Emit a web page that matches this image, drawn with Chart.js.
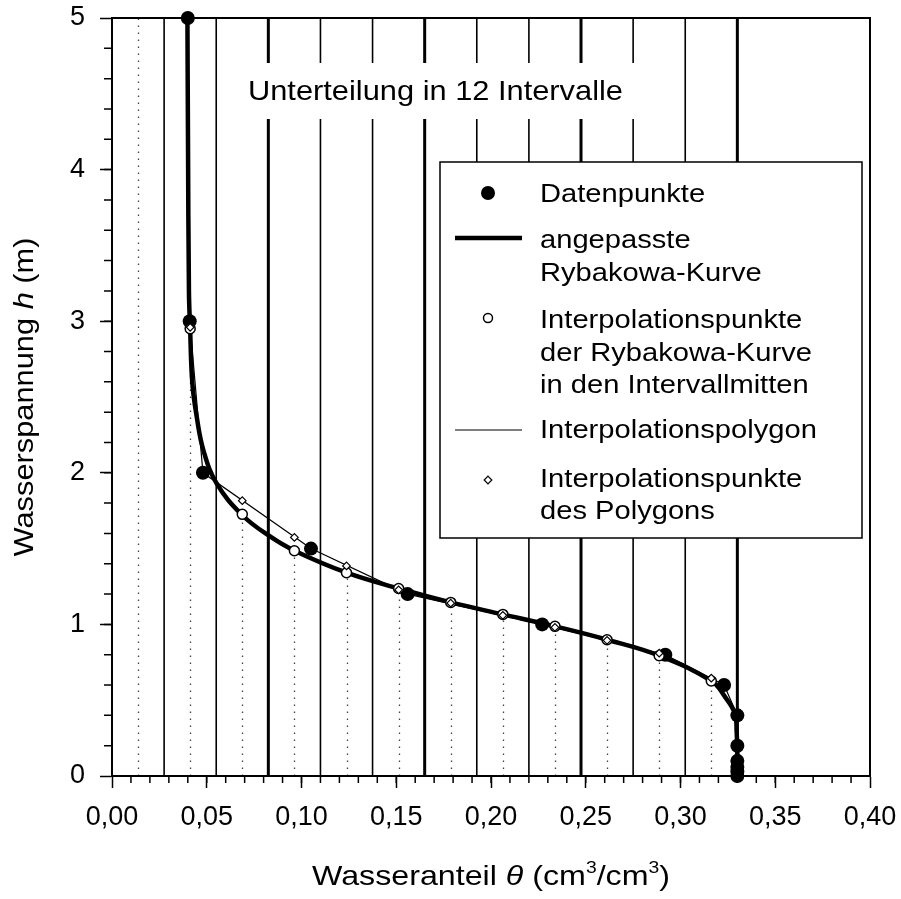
<!DOCTYPE html>
<html>
<head>
<meta charset="utf-8">
<script src="https://cdn.jsdelivr.net/npm/chart.js@4.4.0/dist/chart.umd.min.js"></script>
<style>
  html, body { margin: 0; padding: 0; background: #fff; }
  #wrap { width: 901px; height: 899px; }
</style>
</head>
<body>
<div id="wrap"><canvas id="chart" width="901" height="899"></canvas></div>
<script>
////////////////////////////// Daten //////////////////////////////

// Datenpunkte (theta, h)
var thetaPts = [0.040, 0.041, 0.048, 0.105, 0.156, 0.227, 0.292, 0.323, 0.330, 0.330, 0.330, 0.330, 0.330, 0.330];
var hPts     = [5.0,   3.0,   2.0,   1.5,   1.2,   1.0,   0.8,   0.6,   0.4,   0.2,   0.1,   0.06,  0.03,  0.0];

// angepasste Rybakowa-Kurve
var thetaCurve = [0.0398, 0.0401, 0.0406, 0.0412, 0.0424, 0.0447, 0.0482, 0.0552, 0.0688, 0.0834, 0.0963,
                  0.1238, 0.1513, 0.1788, 0.2063, 0.2338, 0.2613, 0.2888, 0.3163, 0.3236, 0.3288, 0.3296, 0.3300, 0.3300];
var hCurve     = [5.0, 4.2, 3.2, 2.96, 2.59, 2.37, 2.15, 1.93, 1.72, 1.58, 1.486,
                  1.341, 1.237, 1.145, 1.066, 0.987, 0.899, 0.794, 0.627, 0.52, 0.41, 0.3, 0.15, 0.0];

// 12 Intervalle: Grenzen und Mitten
var intervalEdges = [0.0275, 0.055, 0.0825, 0.11, 0.1375, 0.165, 0.1925, 0.22, 0.2475, 0.275, 0.3025, 0.33];
var intervalMids  = [0.01375, 0.04125, 0.06875, 0.09625, 0.12375, 0.15125, 0.17875, 0.20625, 0.23375, 0.26125, 0.28875, 0.31625];
var hCurveMid     = [null, 2.95, 1.726, 1.486, 1.341, 1.237, 1.145, 1.066, 0.987, 0.899, 0.794, 0.627];
var hPolyMid      = [null, 2.96, 1.816, 1.574, 1.386, 1.228, 1.14, 1.06, 0.98, 0.895, 0.81, 0.645];

// Achsen
var xTicks = [0, 0.05, 0.10, 0.15, 0.20, 0.25, 0.30, 0.35, 0.40];
var yTicks = [0, 1, 2, 3, 4, 5];

var legendLabels = [
  ['Datenpunkte'],
  ['angepasste', 'Rybakowa-Kurve'],
  ['Interpolationspunkte', 'der Rybakowa-Kurve', 'in den Intervallmitten'],
  ['Interpolationspolygon'],
  ['Interpolationspunkte', 'des Polygons']
];
var caption = 'Unterteilung in 12 Intervalle';

////////////////////////////// Hilfen //////////////////////////////

var FONT = "'Liberation Sans', Arial, sans-serif";

function pairs(xs, ys) {
  var out = [];
  for (var i = 0; i < xs.length; i++) {
    if (ys[i] !== null) out.push({ x: xs[i], y: ys[i] });
  }
  return out;
}

// stretched text (the original lettering is a bit wider than Arial)
function sText(ctx, str, x, y, sx) {
  ctx.save();
  ctx.translate(x, y);
  ctx.scale(sx, 1);
  ctx.fillText(str, 0, 0);
  ctx.restore();
}

// mixed-style text: segments {t, italic, sup}
function richWidth(ctx, segs, size) {
  var w = 0;
  segs.forEach(function (s) {
    ctx.font = (s.italic ? 'italic ' : '') + (s.sup ? size * 0.6 : size) + 'px ' + FONT;
    w += ctx.measureText(s.t).width;
  });
  return w;
}
function richText(ctx, segs, cx, y, size, sx) {
  ctx.save();
  ctx.translate(cx, y);
  ctx.scale(sx, 1);
  var x = -richWidth(ctx, segs, size) / 2;
  ctx.textAlign = 'left';
  ctx.textBaseline = 'alphabetic';
  segs.forEach(function (s) {
    ctx.font = (s.italic ? 'italic ' : '') + (s.sup ? size * 0.6 : size) + 'px ' + FONT;
    ctx.fillText(s.t, x, s.sup ? -size * 0.42 : 0);
    x += ctx.measureText(s.t).width;
  });
  ctx.restore();
}

////////////////////////////// Plugin //////////////////////////////

var decor = {
  id: 'decor',
  beforeDatasetsDraw: function (chart) {
    var ctx = chart.ctx, xs = chart.scales.x, ys = chart.scales.y, a = chart.chartArea;
    ctx.save();

    // gepunktete Linien in den Intervallmitten
    ctx.setLineDash([1.5, 5.5]);
    ctx.lineWidth = 1.3;
    ctx.strokeStyle = '#444';
    intervalMids.forEach(function (m, i) {
      var top = hCurveMid[i] === null ? ys.max : hCurveMid[i];
      var px = Math.round(xs.getPixelForValue(m)) + 0.5;
      ctx.beginPath();
      ctx.moveTo(px, ys.getPixelForValue(0));
      ctx.lineTo(px, ys.getPixelForValue(top));
      ctx.stroke();
    });
    ctx.setLineDash([]);

    // Intervallgrenzen, jede dritte kraeftiger
    ctx.strokeStyle = '#000';
    intervalEdges.forEach(function (e, i) {
      var px = xs.getPixelForValue(e);
      ctx.lineWidth = (i + 1) % 3 === 0 ? 3 : 1.6;
      ctx.beginPath();
      ctx.moveTo(px, a.top);
      ctx.lineTo(px, a.bottom);
      ctx.stroke();
    });

    // Beschriftung mit weissem Hintergrund
    ctx.fillStyle = '#fff';
    ctx.fillRect(240, 63, 400, 56);
    ctx.fillStyle = '#000';
    ctx.font = '28px ' + FONT;
    ctx.textAlign = 'left';
    ctx.textBaseline = 'alphabetic';
    sText(ctx, caption, 248, 100, 1.1);

    // Rahmen
    ctx.lineWidth = 2;
    ctx.strokeStyle = '#000';
    ctx.strokeRect(a.left, a.top, a.right - a.left, a.bottom - a.top);

    // kleine Teilstriche
    ctx.lineWidth = 1.5;
    ctx.beginPath();
    for (var v = 0.01; v < 0.4; v += 0.01) {
      var px = xs.getPixelForValue(v);
      ctx.moveTo(px, a.bottom);
      ctx.lineTo(px, a.bottom + 7);
    }
    for (var w = 0.2; w < 5; w += 0.2) {
      var py = ys.getPixelForValue(w);
      ctx.moveTo(a.left, py);
      ctx.lineTo(a.left - 8, py);
    }
    ctx.stroke();
    ctx.restore();
  },
  afterDatasetsDraw: function (chart) {
    var ctx = chart.ctx;
    ctx.save();

    // Legende
    var box = { l: 440, t: 162, r: 862, b: 538 };
    ctx.fillStyle = '#fff';
    ctx.fillRect(box.l, box.t, box.r - box.l, box.b - box.t);
    ctx.lineWidth = 1.5;
    ctx.strokeStyle = '#000';
    ctx.strokeRect(box.l, box.t, box.r - box.l, box.b - box.t);

    var symX = 488, txtX = 540;
    var baselines = [[201.5], [248, 281], [328, 360.5, 393], [438], [487, 519]];
    var symY = [193, 238, 318, 430, 480];

    // Symbole
    ctx.fillStyle = '#000';
    ctx.beginPath(); ctx.arc(symX, symY[0], 7, 0, Math.PI * 2); ctx.fill();
    ctx.lineWidth = 4.5;
    ctx.beginPath(); ctx.moveTo(455, symY[1]); ctx.lineTo(522, symY[1]); ctx.stroke();
    ctx.lineWidth = 1.5;
    ctx.fillStyle = '#fff';
    ctx.beginPath(); ctx.arc(symX, symY[2], 4.5, 0, Math.PI * 2); ctx.fill(); ctx.stroke();
    ctx.lineWidth = 1.2;
    ctx.beginPath(); ctx.moveTo(455, symY[3]); ctx.lineTo(522, symY[3]); ctx.stroke();
    ctx.beginPath();
    ctx.moveTo(symX, symY[4] - 3.8); ctx.lineTo(symX + 3.8, symY[4]);
    ctx.lineTo(symX, symY[4] + 3.8); ctx.lineTo(symX - 3.8, symY[4]); ctx.closePath();
    ctx.fill(); ctx.stroke();

    // Texte
    ctx.fillStyle = '#000';
    ctx.font = '26px ' + FONT;
    ctx.textAlign = 'left';
    ctx.textBaseline = 'alphabetic';
    legendLabels.forEach(function (lines, i) {
      lines.forEach(function (t, j) { sText(ctx, t, txtX, baselines[i][j], 1.12); });
    });
    ctx.restore();
  },
  afterDraw: function (chart) {
    var ctx = chart.ctx, a = chart.chartArea;
    ctx.save();
    ctx.fillStyle = '#000';
    // x-Achsentitel
    richText(ctx, [
      { t: 'Wasseranteil ' }, { t: '\u03B8', italic: true }, { t: ' (cm' }, { t: '3', sup: true },
      { t: '/cm' }, { t: '3', sup: true }, { t: ')' }
    ], (a.left + a.right) / 2, 885, 28, 1.15);
    // y-Achsentitel
    ctx.translate(33, (a.top + a.bottom) / 2);
    ctx.rotate(-Math.PI / 2);
    richText(ctx, [
      { t: 'Wasserspannung ' }, { t: 'h', italic: true }, { t: ' (m)' }
    ], 0, 0, 28, 1.1);
    ctx.restore();
  }
};

////////////////////////////// Graphique //////////////////////////////

var ctx = document.getElementById('chart').getContext('2d');
var myChart = new Chart(ctx, {
  type: 'scatter',
  data: {
    datasets: [
      {
        label: 'Interpolationspunkte des Polygons',
        data: pairs(intervalMids, hPolyMid),
        pointStyle: 'rectRot',
        pointRadius: 3.8,
        backgroundColor: '#fff',
        borderColor: '#000',
        borderWidth: 1.2,
        clip: false,
        order: 1
      },
      {
        label: 'Interpolationspunkte der Rybakowa-Kurve',
        data: pairs(intervalMids, hCurveMid),
        pointRadius: 5,
        backgroundColor: '#fff',
        borderColor: '#000',
        borderWidth: 1.5,
        clip: false,
        order: 2
      },
      {
        label: 'Datenpunkte',
        data: pairs(thetaPts, hPts),
        pointRadius: 7,
        backgroundColor: '#000',
        borderColor: '#000',
        borderWidth: 0,
        clip: false,
        order: 3
      },
      {
        label: 'angepasste Rybakowa-Kurve',
        data: pairs(thetaCurve, hCurve),
        showLine: true,
        tension: 0.4,
        borderColor: '#000',
        borderWidth: 4.5,
        pointRadius: 0,
        clip: false,
        order: 4
      },
      {
        label: 'Interpolationspolygon',
        data: pairs(thetaPts, hPts),
        showLine: true,
        tension: 0,
        borderColor: '#000',
        borderWidth: 1.2,
        pointRadius: 0,
        order: 5
      }
    ]
  },
  options: {
    responsive: false,
    animation: false,
    events: [],
    layout: { padding: { left: 0, top: 18, right: 31, bottom: 0 } },
    plugins: { legend: { display: false }, tooltip: { enabled: false } },
    scales: {
      x: {
        type: 'linear',
        min: 0,
        max: 0.4,
        afterFit: function (s) { s.height = 123; s.paddingLeft = 0; s.paddingRight = 0; },
        afterBuildTicks: function (s) { s.ticks = xTicks.map(function (v) { return { value: v }; }); },
        ticks: {
          color: '#000',
          font: { family: FONT, size: 27 },
          padding: 13,
          maxRotation: 0,
          autoSkip: false,
          callback: function (v) { return v.toFixed(2).replace('.', ','); }
        },
        grid: { drawOnChartArea: false, drawTicks: true, tickLength: 12, tickColor: '#000', tickWidth: 1.5 },
        border: { display: true, color: '#000', width: 2 }
      },
      y: {
        type: 'linear',
        min: 0,
        max: 5,
        afterFit: function (s) { s.width = 112; s.paddingTop = 0; s.paddingBottom = 0; },
        afterBuildTicks: function (s) { s.ticks = yTicks.map(function (v) { return { value: v }; }); },
        ticks: {
          color: '#000',
          font: { family: FONT, size: 27 },
          padding: 15,
          autoSkip: false,
          callback: function (v) { return String(v); }
        },
        grid: { drawOnChartArea: false, drawTicks: true, tickLength: 12, tickColor: '#000', tickWidth: 1.5 },
        border: { display: true, color: '#000', width: 2 }
      }
    }
  },
  plugins: [decor]
});
</script>
</body>
</html>
